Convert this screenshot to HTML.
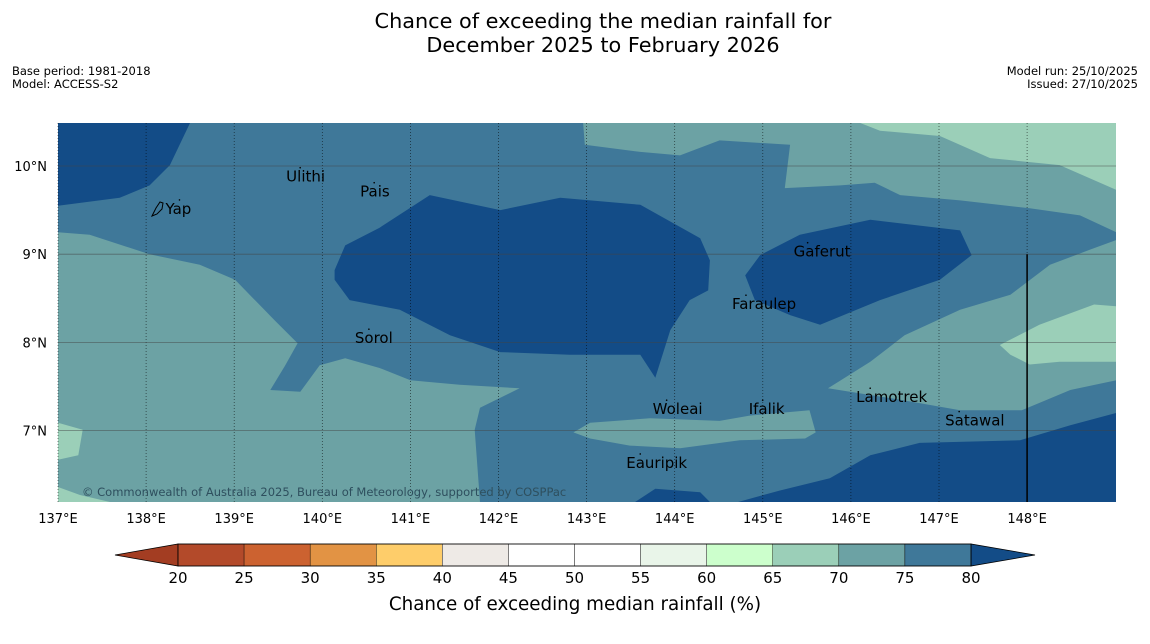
<!DOCTYPE html>
<html><head><meta charset="utf-8"><style>
html,body{margin:0;padding:0;background:#fff;}
body{width:1150px;height:644px;overflow:hidden;font-family:"DejaVu Sans","Liberation Sans",sans-serif;}
svg{display:block;font-family:"DejaVu Sans","Liberation Sans",sans-serif;}
</style></head><body>
<svg id="chart" width="1150" height="644" viewBox="0 0 1150 644" xmlns="http://www.w3.org/2000/svg">
<text x="603" y="28" font-size="20.8" text-anchor="middle" fill="#000">Chance of exceeding the median rainfall for</text>
<text x="603" y="52" font-size="20.8" text-anchor="middle" fill="#000">December 2025 to February 2026</text>
<text x="12" y="75" font-size="11.5">Base period: 1981-2018</text>
<text x="12" y="88" font-size="11.5">Model: ACCESS-S2</text>
<text x="1138" y="75" font-size="11.5" text-anchor="end">Model run: 25/10/2025</text>
<text x="1138" y="88" font-size="11.5" text-anchor="end">Issued: 27/10/2025</text>
<defs><clipPath id="mapclip"><rect x="58" y="123" width="1058" height="379"/></clipPath></defs>
<g id="map" clip-path="url(#mapclip)"></g>
<g id="axes"></g>
<g id="places"></g>
<g id="cbar"></g>
<text x="575" y="610" font-size="18.3" text-anchor="middle">Chance of exceeding median rainfall (%)</text>
</svg>
<script>
const lonTicks=[137,138,139,140,141,142,143,144,145,146,147,148];
const latTicks=[10,9,8,7];
const cbarTicks=[20,25,30,35,40,45,50,55,60,65,70,75,80];
const cbarColors=["#b34a2a","#cc6230","#e29344","#fecd6a","#eeeae6","#ffffff","#ffffff","#e9f5e9","#ccffcc","#9bcfb8","#6ca2a4","#3f7899"];
const underColor="#a33d22", overColor="#134c87";
const baseLevel="#3f7899";
const regionLevels=["#134c87","#6ca2a4","#9bcfb8","#9bcfb8","#134c87","#134c87","#6ca2a4","#9bcfb8","#6ca2a4","#9bcfb8","#6ca2a4","#134c87","#134c87"];
const regions=[
[[137,10.49],[138.5,10.49],[138.27,10.01],[138.04,9.78],[137.7,9.64],[137,9.55]],
[[137,9.25],[137.36,9.22],[138.04,9.0],[138.61,8.88],[139.01,8.71],[139.46,8.25],[139.72,7.99],[139.58,7.74],[139.41,7.46],[139.75,7.44],[139.97,7.74],[140.26,7.82],[140.65,7.71],[141.0,7.57],[141.56,7.52],[142.24,7.48],[141.79,7.26],[141.73,7.01],[141.79,6.19],[137,6.19]],
[[137,7.09],[137.28,7.01],[137.23,6.72],[137,6.67]],
[[137,6.36],[137.25,6.27],[137.59,6.19],[137,6.19]],
[[140.14,8.82],[140.26,9.10],[140.65,9.30],[141.22,9.67],[142.02,9.50],[142.70,9.64],[143.61,9.56],[144.29,9.18],[144.40,8.93],[144.38,8.59],[144.17,8.48],[143.95,8.14],[143.78,7.60],[143.61,7.86],[142.81,7.86],[142.02,7.89],[141.45,8.08],[140.88,8.37],[140.31,8.48],[140.14,8.71]],
[[144.8,8.76],[144.97,8.99],[145.42,9.22],[146.22,9.39],[147.24,9.27],[147.37,8.99],[147.01,8.71],[146.33,8.48],[145.65,8.20],[145.31,8.31],[144.91,8.48]],
[[142.96,10.49],[149.01,10.49],[149.01,9.25],[148.6,9.44],[148.03,9.52],[147.24,9.61],[146.56,9.67],[146.27,9.81],[145.88,9.78],[145.25,9.75],[145.31,10.24],[144.51,10.29],[144.06,10.12],[143.61,10.16],[142.98,10.24]],
[[146.1,10.49],[149.01,10.49],[149.01,9.73],[148.37,10.01],[147.58,10.09],[147.01,10.34],[146.33,10.40]],
[[149.01,9.16],[149.01,7.57],[148.49,7.46],[147.94,7.23],[147.24,7.23],[146.56,7.35],[145.74,7.48],[146.22,7.78],[146.61,8.08],[147.24,8.37],[147.81,8.54],[148.26,8.88],[148.71,9.05]],
[[149.01,8.41],[149.01,7.78],[148.37,7.78],[148.03,7.75],[147.81,7.86],[147.69,7.97],[148.14,8.20],[148.76,8.43]],
[[142.85,6.98],[143.04,7.09],[143.72,7.14],[144.51,7.11],[144.85,7.17],[145.53,7.23],[145.6,6.98],[145.48,6.91],[144.74,6.89],[144.06,6.80],[143.49,6.83],[143.04,6.91]],
[[144.72,6.19],[145.19,6.32],[145.76,6.46],[146.22,6.72],[146.78,6.86],[147.92,6.89],[148.49,7.06],[149.01,7.2],[149.01,6.19]],
[[143.55,6.19],[143.78,6.34],[144.29,6.30],[144.4,6.19]]
];
const placeNames=["Ulithi","Pais","Yap","Gaferut","Faraulep","Sorol","Lamotrek","Woleai","Ifalik","Satawal","Eauripik"];
const placeLon=[139.59,140.43,138.22,145.35,144.65,140.37,146.06,143.75,144.84,147.07,143.45];
const placeLat=[9.935,9.765,9.57,9.085,8.49,8.105,7.435,7.30,7.30,7.17,6.69];
const NS="http://www.w3.org/2000/svg";
const X=lon=>58+(lon-137)*88.1;
const Y=lat=>166+(10-lat)*88.2;
function mk(tag,attrs,parent){const e=document.createElementNS(NS,tag);for(const k in attrs)e.setAttribute(k,attrs[k]);parent.appendChild(e);return e;}
const map=document.getElementById('map');
let bg=mk('rect',{x:58,y:123,width:1058,height:379,fill:baseLevel},map);


regions.forEach((r,i)=>{
 const p=mk('polygon',{points:r.map(q=>X(q[0]).toFixed(1)+','+Y(q[1]).toFixed(1)).join(' '),fill:regionLevels[i]},map);
 
 
});
const axes=document.getElementById('axes');
lonTicks.forEach(l=>{
 const ln=mk('line',{x1:X(l),x2:X(l),y1:123,y2:502,stroke:'#000','stroke-width':0.7,'stroke-dasharray':'1,2',opacity:0.7},axes);
 
 
 const t=mk('text',{x:X(l),y:523,'font-size':13,'text-anchor':'middle'},axes);
 t.textContent=l+'°E';
 
 
});
latTicks.forEach(l=>{
 const ln=mk('line',{x1:58,x2:1116,y1:Y(l),y2:Y(l),stroke:'#444','stroke-width':0.8,opacity:0.6},axes);
 
 
 const t=mk('text',{x:47,y:Y(l)+5,'font-size':13,'text-anchor':'end'},axes);
 t.textContent=l+'°N';
 
 
});
const vl=mk('line',{x1:X(148),x2:X(148),y1:Y(9),y2:502,stroke:'#000','stroke-width':1.5},axes);


const cp=mk('text',{x:82,y:496,'font-size':11.5,fill:'#2e4f5e'},axes);
cp.textContent='© Commonwealth of Australia 2025, Bureau of Meteorology, supported by COSPPac';


const places=document.getElementById('places');
placeNames.forEach((n,i)=>{
 const x=X(placeLon[i]),y=Y(placeLat[i]);
 const d=mk('circle',{cx:x+14,cy:y-4,r:0.8,fill:'#000'},places);
 
 
 const t=mk('text',{x:x,y:y+10,'font-size':15,fill:'#000'},places);
 t.textContent=n;
 
 
});
const yap=mk('path',{d:'M152,216 L156,208 L160,202 L163,203 L162,209 L157,214 Z',fill:'none',stroke:'#000','stroke-width':1},places);


const cbar=document.getElementById('cbar');
const cx=v=>178+(v-20)*(971-178)/60;
const y0=544,h=22;
const lt=mk('polygon',{points:`${cx(20)},${y0} ${cx(20)},${y0+h} 115,${y0+h/2}`,fill:underColor,stroke:'#000','stroke-width':0.8},cbar);


const rt=mk('polygon',{points:`${cx(80)},${y0} ${cx(80)},${y0+h} 1035,${y0+h/2}`,fill:overColor,stroke:'#000','stroke-width':0.8},cbar);


cbarColors.forEach((c,i)=>{
 const r=mk('rect',{x:cx(cbarTicks[i]),y:y0,width:cx(cbarTicks[i+1])-cx(cbarTicks[i]),height:h,fill:c,stroke:'#000','stroke-width':0.4},cbar);
 
 
});
const ob=mk('rect',{x:cx(20),y:y0,width:cx(80)-cx(20),height:h,fill:'none',stroke:'#000','stroke-width':0.8},cbar);


cbarTicks.forEach(v=>{
 const t=mk('text',{x:cx(v),y:583,'font-size':15,'text-anchor':'middle'},cbar);
 t.textContent=v;
 
 
});
</script>
</body></html>
